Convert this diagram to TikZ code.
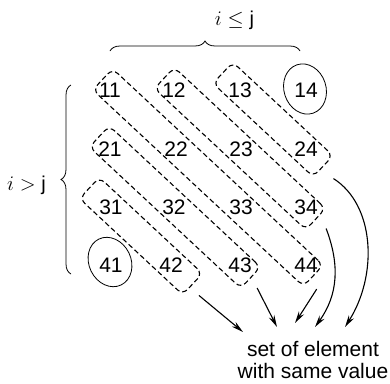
\documentclass[tikz,border=0pt]{standalone}
\usepackage{fontspec}
\setmainfont{Liberation Sans}
\usepackage{tikz}
\usetikzlibrary{arrows.meta, positioning, shapes.geometric, calc, decorations.pathreplacing}

\begin{document}
\begin{tikzpicture}[x=1pt, y=-1pt,
    num/.style={font=\fontsize{21}{24}\selectfont, inner sep=1pt},
    grp/.style={draw, dash pattern=on 5pt off 3pt, line width=1.1pt, rounded corners=7pt, minimum height=29pt, rotate=-43},
    single/.style={draw, ellipse, line width=0.8pt, minimum width=42pt, minimum height=51pt, inner sep=0pt},
    brc/.style={decorate, decoration={brace, amplitude=10pt}, line width=0.8pt},
    lbl/.style={font=\fontsize{20}{24}\selectfont, anchor=base},
    arr/.style={-{Stealth[length=12pt, width=6pt]}, line width=1.1pt},
    txt/.style={font=\fontsize{21}{22}\selectfont, align=center, inner sep=0pt}
]
\useasboundingbox (0,0) rectangle (390,383);

% Row 1
\node[num] (n11) at (110, 90) {11};
\node[num] (n12) at (174, 90) {12};
\node[num] (n13) at (240, 90) {13};
\node[num] (n14) at (306, 90) {14};

% Row 2
\node[num] (n21) at (110, 149) {21};
\node[num] (n22) at (176, 149) {22};
\node[num] (n23) at (241, 149) {23};
\node[num] (n24) at (306, 149) {24};

% Row 3
\node[num] (n31) at (111, 207) {31};
\node[num] (n32) at (174, 207) {32};
\node[num] (n33) at (241, 207) {33};
\node[num] (n34) at (306, 207) {34};

% Row 4
\node[num] (n41) at (111, 265) {41};
\node[num] (n42) at (171, 265) {42};
\node[num] (n43) at (240, 265) {43};
\node[num] (n44) at (306, 265) {44};

% diagonals
\node[grp, minimum width=288pt] (g1) at ($(n11)!0.5!(n44)$) {};
\node[grp, minimum width=207pt] (g2) at ($(n12)!0.5!(n34)$) {};
\node[grp, minimum width=137pt] (g3) at ($(n13)!0.5!(n24)$) {};
\node[grp, minimum width=207pt] (g4) at ($(n21)!0.5!(n43)$) {};
\node[grp, minimum width=141pt] (g5) at ($(n31)!0.5!(n42)$) {};

% corners
\node[single, rotate=18] (o14) at ([shift={(-1,-1)}]n14) {};
\node[single, rotate=26] (o41) at ([shift={(-1,-3)}]n41) {};

% braces
\draw[brc] (110,51) -- (300,51);
\draw[brc] (71,274) -- (71,85);
\node[lbl] (le) at (234.5,25) {$i\leq\mbox{j}$};
\node[lbl] (gt) at (26.5,190) {$i>\mbox{j}$};

% target
\node[txt, anchor=north] (set) at (313,341.5) {set of element\\with same value};
\coordinate (h1) at (243,332);
\coordinate (h2) at (277,327);
\coordinate (h3) at (295,323);
\coordinate (h4) at (315,327);
\coordinate (h5) at (345,327);

\draw[arr] ([shift={(6,11)}]g5.east) -- (h1);
\draw[arr] ([shift={(6,10)}]g4.east) -- (h2);
\draw[arr] ([shift={(3,13)}]g1.east) -- (h3);
\draw[arr] ([shift={(10,9)}]g2.east) .. controls (340,265) and (338,295) .. (h4);
\draw[arr] ([shift={(10,12)}]g3.east) .. controls (375,205) and (378,275) .. (h5);
\end{tikzpicture}
\end{document}
